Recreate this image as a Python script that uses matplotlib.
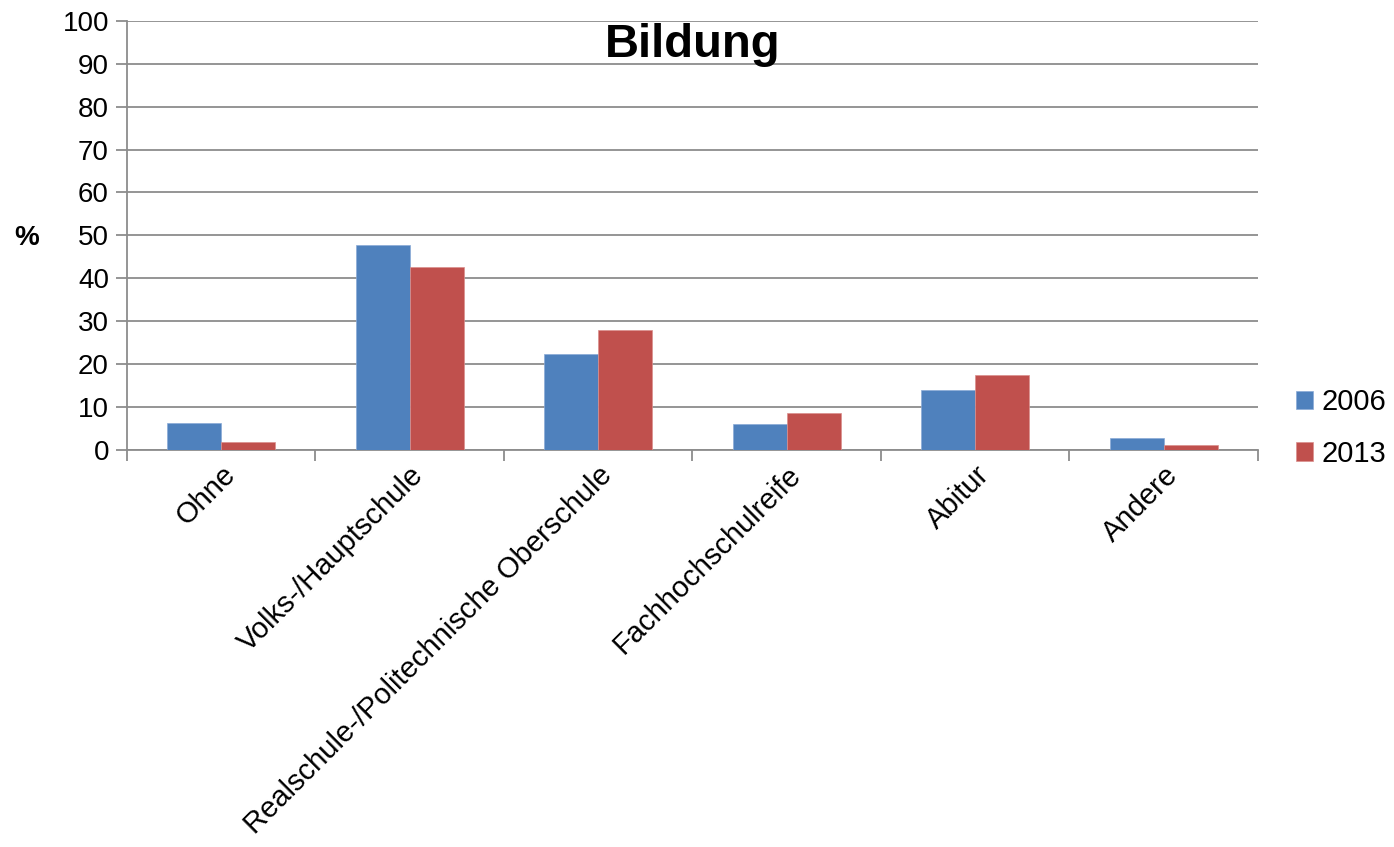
import numpy as np
import matplotlib
matplotlib.use("Agg")
import matplotlib.pyplot as plt

plt.rcParams['font.family'] = ['Liberation Sans', 'DejaVu Sans']

categories = ['Ohne', 'Volks-/Hauptschule', 'Realschule-/Politechnische Oberschule',
              'Fachhochschulreife', 'Abitur', 'Andere']
values_2006 = [6.2, 47.7, 22.4, 6.0, 14.0, 2.7]
values_2013 = [1.8, 42.6, 27.9, 8.5, 17.5, 1.0]

fig = plt.figure(figsize=(13.94, 8.47), dpi=100)
ax = fig.add_axes([0.0911, 0.4693, 0.8113, 0.5059])

x = np.arange(len(categories))
w = 0.286
ax.bar(x - w / 2, values_2006, w, color='#4F81BD', label='2006', zorder=3,
       edgecolor='#8AAAD6', linewidth=0.5)
ax.bar(x + w / 2, values_2013, w, color='#C0504D', label='2013', zorder=3,
       edgecolor='#DA8F8D', linewidth=0.5)

ax.set_xlim(-0.5, len(categories) - 0.5)
ax.set_ylim(0, 100)
ax.set_yticks(range(0, 101, 10))
ax.yaxis.grid(True, color='#8C8C8C', linewidth=1.3, zorder=0)

ax.set_xticks(np.arange(-0.5, len(categories), 1))
ax.set_xticklabels([])
ax.set_xticks(x, minor=True)
ax.set_xticklabels(categories, minor=True, rotation=45, ha='right',
                   rotation_mode='anchor', fontsize=21)
ax.tick_params(axis='x', which='minor', length=0, pad=8)
ax.tick_params(axis='x', which='major', length=8, width=1.3, color='#8C8C8C')
ax.tick_params(axis='y', length=8, width=1.3, color='#8C8C8C', labelsize=20, pad=5)

for side in ['top', 'right']:
    ax.spines[side].set_visible(False)
for side in ['left', 'bottom']:
    ax.spines[side].set_color('#8C8C8C')
    ax.spines[side].set_linewidth(1.3)

ax.text(0.5, 0.995, 'Bildung', transform=ax.transAxes, ha='center', va='top',
        fontsize=34, fontweight='bold')
fig.text(0.0194, 0.719, '%', ha='center', va='center', fontsize=20, fontweight='bold')

leg = ax.legend(loc='center left', bbox_to_anchor=(1.01, 0.05), frameon=False,
                fontsize=21, handlelength=0.6, handleheight=0.6, handletextpad=0.3,
                labelspacing=0.8)

fig.savefig('out.png', dpi=100)
